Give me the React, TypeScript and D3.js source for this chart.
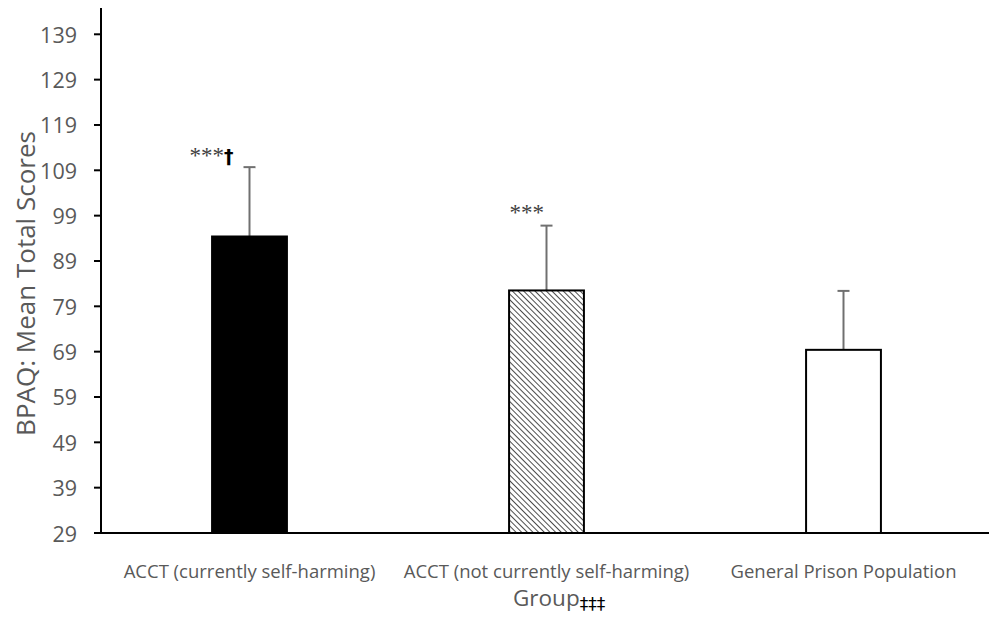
import React from 'react';
import * as d3 from 'd3';

const groups = ['ACCT (currently self-harming)', 'ACCT (not currently self-harming)', 'General Prison Population'];
const means = [94.4, 82.5, 69.4];
const sds = [15.3, 14.3, 13.0];
const fills = ['solid', 'hatch', 'empty'];
const stars = ['***', '***', ''];
const daggers = ['†', '', ''];
const yTicks = [29, 39, 49, 59, 69, 79, 89, 99, 109, 119, 129, 139];

const W = 989, H = 619;
const M = { top: 8, right: -3, bottom: 86, left: 101 };
const FONT = '"Open Sans", "Noto Sans", sans-serif';
const GREY = '#595959';
// manual placement of the significance labels (relative to bar centre / error cap)
const markDx = [-60, -37, 0];
const markDy = [-4, -6, 0];

export default function App() {
  const x = d3.scaleBand().domain(groups).range([M.left, W - M.right]).padding(0);
  const y = d3.scaleLinear().domain([29, 144.8]).range([H - M.bottom, M.top]);
  const bw = x.bandwidth() * 0.252;
  const base = y(29);

  return (
    <svg width={W} height={H} style={{ position: 'absolute', left: 0, top: 0, background: '#fff' }} fontFamily={FONT}>
      <defs>
        <pattern id="hatch" patternUnits="userSpaceOnUse" width="4" height="4" patternTransform="rotate(-45)">
          <rect width="4" height="4" fill="#fff" />
          <line x1="0" y1="0" x2="0" y2="4" stroke="#000" strokeWidth="1.4" />
        </pattern>
      </defs>

      {groups.map((g, i) => {
        const cx = (x(g) as number) + x.bandwidth() / 2;
        const top = y(means[i]);
        const errTop = y(means[i] + sds[i]);
        const fill = fills[i] === 'solid' ? '#000' : fills[i] === 'hatch' ? 'url(#hatch)' : '#fff';
        return (
          <g key={g}>
            <line x1={cx} x2={cx} y1={top} y2={errTop} stroke="#707070" strokeWidth={2} />
            <line x1={cx - 6} x2={cx + 6} y1={errTop} y2={errTop} stroke="#707070" strokeWidth={2} />
            <rect x={cx - bw / 2} y={top} width={bw} height={base - top} fill={fill} stroke="#000" strokeWidth={2} />
            {stars[i] && (
              <text x={cx + markDx[i]} y={errTop + markDy[i]}>
                <tspan fontFamily='"Liberation Serif", serif' fontSize={23} fill="#404040">{stars[i]}</tspan>
                {daggers[i] && <tspan fill="#000" fontWeight="bold" fontFamily='"DejaVu Sans", sans-serif' fontSize={19}>{daggers[i]}</tspan>}
              </text>
            )}
            <text x={cx} y={578} textAnchor="middle" fontSize={18.5} fill={GREY}>{g}</text>
          </g>
        );
      })}

      {/* y axis */}
      <line x1={M.left} x2={M.left} y1={M.top} y2={base} stroke="#000" strokeWidth={2} />
      {yTicks.map(t => (
        <g key={t}>
          <line x1={M.left - 7} x2={M.left} y1={y(t)} y2={y(t)} stroke="#000" strokeWidth={2} />
          <text x={M.left - 24} y={y(t)} textAnchor="end" dominantBaseline="central" fontSize={21.5} fill={GREY}>{t}</text>
        </g>
      ))}
      {/* x axis */}
      <line x1={M.left - 7} x2={W} y1={base} y2={base} stroke="#000" strokeWidth={2} />

      <text transform={`translate(25,${(M.top + base) / 2 + 13}) rotate(-90)`} textAnchor="middle" dominantBaseline="central" fontSize={26} fill={GREY}>BPAQ: Mean Total Scores</text>
      <text x={513} y={606} fontSize={22.5} fill={GREY}>
        Group<tspan fill="#000" fontSize={17} dy={4} fontFamily='"DejaVu Sans", sans-serif'>‡‡‡</tspan>
      </text>
    </svg>
  );
}
